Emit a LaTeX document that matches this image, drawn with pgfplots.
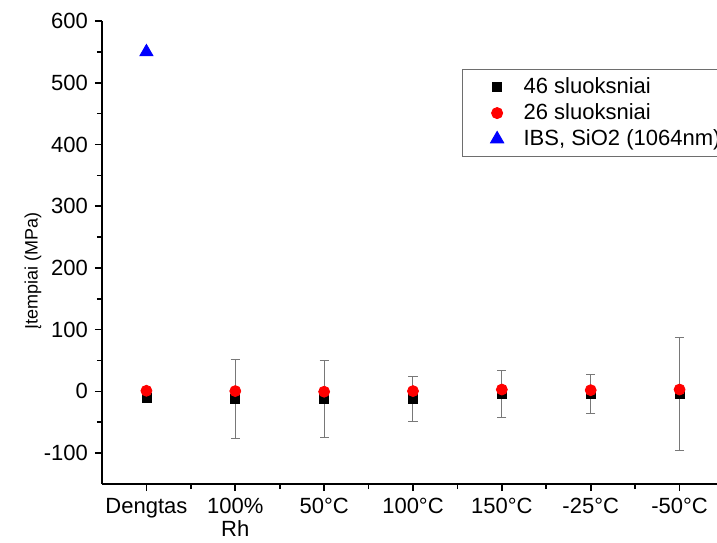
\documentclass[border=0pt]{standalone}
\usepackage{fontspec}
\setmainfont{Liberation Sans}
\usepackage{pgfplots}
\usepackage{pgfplotstable}
\pgfplotsset{compat=1.18}

% 46 sluoksniai: value and error
\pgfplotstableread{
x y e
0 -10 0
1 -12.5 64
2 -12 62.5
3 -12 36
4 -4 37.5
5 -4.5 32
6 -4.5 91.5
}\tabA

% 26 sluoksniai
\pgfplotstableread{
x y
0 1
1 0.5
2 -0.5
3 0.5
4 3
5 2
6 3
}\tabB

% IBS, SiO2
\pgfplotstableread{
x y
0 550
}\tabC

\definecolor{errgray}{RGB}{120,120,120}
\definecolor{boxgray}{RGB}{110,110,110}

\pgfplotsset{
    mylegend/.style={legend image code/.code={
        \path (0pt,0pt) (24pt,0pt);
        \draw[##1] plot coordinates {(13pt,0pt)};}},
}

\begin{document}
\begin{tikzpicture}
\useasboundingbox (-51pt,-29pt) rectangle (307.5pt,242pt);
\clip (-51pt,-29pt) rectangle (307.5pt,242pt);
\begin{axis}[
    at={(0pt,0pt)}, anchor=south west,
    scale only axis,
    width=311pt, height=231.5pt,
    xmin=-0.5, xmax=6.5,
    ymin=-150, ymax=600,
    axis lines=left,
    axis line style={-, line width=1pt},
    xtick={0,...,6},
    xticklabels={Dengtas,{100\%\\Rh},50°C,100°C,150°C,-25°C,-50°C},
    minor x tick num=1,
    ytick={-100,0,...,600},
    minor y tick num=1,
    tick align=outside,
    major tick length=3.5pt,
    minor tick length=2.5pt,
    tick style={line width=0.8pt, black},
    font=\fontsize{11}{11.5}\selectfont,
    tick label style={font=\fontsize{11}{11.5}\selectfont},
    xticklabel style={align=center},
    /pgf/number format/assume math mode=true,
    ylabel={Įtempiai (MPa)},
    ylabel style={font=\fontsize{9}{10}\selectfont, at={(axis description cs:-0.111,0.46)}, anchor=center},
    legend style={
        at={(axis description cs:0.579,0.896)}, anchor=north west,
        draw=boxgray, line width=0.5pt,
        font=\fontsize{11}{11.5}\selectfont,
        cells={anchor=west},
        inner xsep=4pt, inner ysep=2pt,
        row sep=-0.5pt,
    },
    clip=false,
]
\addplot[only marks, mylegend, mark=square*, mark size=2.25pt, black,
    error bars/.cd, y dir=both, y explicit,
    error bar style={errgray, line width=0.5pt},
    error mark options={rotate=90, mark size=2.3pt, errgray, line width=0.5pt}]
    table[x=x, y=y, y error=e] {\tabA};
\addlegendentry{46 sluoksniai}
\addplot[only marks, mylegend, mark=*, mark size=2.75pt, red, mark options={fill=red, draw=red}]
    table[x=x, y=y] {\tabB};
\addlegendentry{26 sluoksniai}
\addplot[only marks, mylegend, mark=triangle*, mark size=3.75pt, blue, mark options={fill=blue, draw=blue}]
    table[x=x, y=y] {\tabC};
\addlegendentry{IBS, SiO2 (1064nm)\hspace*{8pt}}
\end{axis}
\end{tikzpicture}
\end{document}
